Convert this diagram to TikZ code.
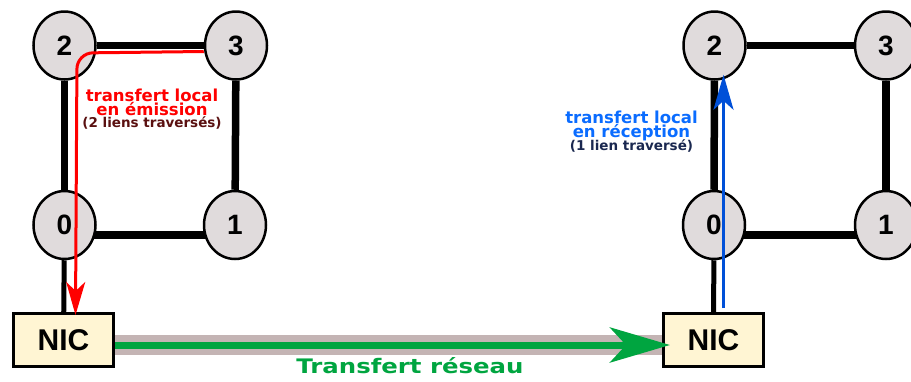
\documentclass[tikz,border=0pt]{standalone}
\usepackage{fontspec}
\setmainfont{DejaVu Sans}
\newfontfamily\numfont{Liberation Sans}
\usetikzlibrary{arrows.meta,shapes.geometric,backgrounds}

\definecolor{procfill}{HTML}{E0DBDC}
\definecolor{nicfill}{HTML}{FFF5D3}
\definecolor{wire}{HTML}{C4B4B4}
\definecolor{netgreen}{HTML}{00A540}
\definecolor{emitred}{HTML}{FF0000}
\definecolor{emitdark}{HTML}{5A1010}
\definecolor{recvblue}{HTML}{0A6CFF}
\definecolor{recvarrow}{HTML}{0050D8}
\definecolor{recvdark}{HTML}{1A2850}

\tikzset{
    proc/.style={ellipse, draw, line width=2.5pt, fill=procfill,
        minimum width=62pt, minimum height=68pt, inner sep=0pt,
        font=\numfont\bfseries\fontsize{28}{28}\selectfont},
    nic/.style={rectangle, draw, line width=3pt, fill=nicfill,
        minimum width=100pt, minimum height=53pt,
        font=\numfont\bfseries\fontsize{30}{30}\selectfont},
    link/.style={line width=7.5pt},
    big/.style={anchor=base, font=\bfseries\fontsize{16.5}{16.5}\selectfont},
    small/.style={anchor=base, font=\bfseries\fontsize{13.5}{13.5}\selectfont}
}

\begin{document}
\begin{tikzpicture}[x=1pt, y=-1pt]
    \useasboundingbox (0,0) rectangle (911,381);

    % emitting side
    \node[proc] (l2) at (64.5,45.5) {2};
    \node[proc] (l3) at (236,45.5) {3};
    \node[proc] (l0) at (64.5,225) {0};
    \node[proc] (l1) at (235,225) {1};
    \node[nic] (lnic) at (63.5,340) {NIC};

    % receiving side
    \node[proc] (r2) at (714.5,45.5) {2};
    \node[proc] (r3) at (886,45.5) {3};
    \node[proc] (r0) at (714,225) {0};
    \node[proc] (r1) at (886,225) {1};
    \node[nic] (rnic) at (713.5,340) {NIC};

    \begin{scope}[on background layer]
        \fill[white] (0,0) rectangle (911,381);
        \path
            (l2) edge [link] (l3)
                 edge [link] (l0)
            (l3) edge [link] (l1)
            ([yshift=-10pt]l0.center) edge [link] ([yshift=-10pt]l1.center)
            (l0) edge [line width=5pt] (lnic)
            (r2) edge [link] (r3)
                 edge [link] (r0)
            (r3) edge [link] (r1)
            ([yshift=-10pt]r0.center) edge [link] ([yshift=-10pt]r1.center)
            (r0) edge [line width=5pt] (rnic)
        ;
    \end{scope}

    % network transfer
    \draw[wire, line width=20pt] ([yshift=-5pt]lnic.east) -- ([yshift=-5pt]rnic.west);
    \draw[netgreen, line width=7pt, -{Stealth[length=60pt, width=35pt, inset=16pt]}]
        ([yshift=-5pt]lnic.east) -- ([xshift=8pt, yshift=-5pt]rnic.west);
    \node[anchor=base, text=netgreen, font=\bfseries\fontsize{20}{20}\selectfont] (net) at (410,373)
        {\scalebox{1.22}[1]{Transfert réseau}};

    % local transfers
    \coordinate (lbend) at (77,53);
    \draw[emitred, line width=3pt, rounded corners=16pt, -{Stealth[length=33pt, width=19pt, inset=9pt]}]
        ([yshift=-6pt]l3.west) -- (lbend) -- ([xshift=12pt, yshift=-3pt]lnic.north);
    \draw[recvarrow, line width=3pt, -{Stealth[length=35pt, width=20pt, inset=9pt]}]
        ([xshift=10pt, yshift=4pt]rnic.north) -- ([xshift=9pt, yshift=6pt]r2.south);

    \node[big, text=emitred] (emitA) at (152,101) {transfert local};
    \node[big, text=emitred] (emitB) at (152,115) {en émission};
    \node[small, text=emitdark] (emitC) at (152,127.5) {(2 liens traversés)};

    \node[big, text=recvblue] (recvA) at (631.5,123) {transfert local};
    \node[big, text=recvblue] (recvB) at (631.5,137) {en réception};
    \node[small, text=recvdark] (recvC) at (631.5,150) {(1 lien traversé)};
\end{tikzpicture}
\end{document}
